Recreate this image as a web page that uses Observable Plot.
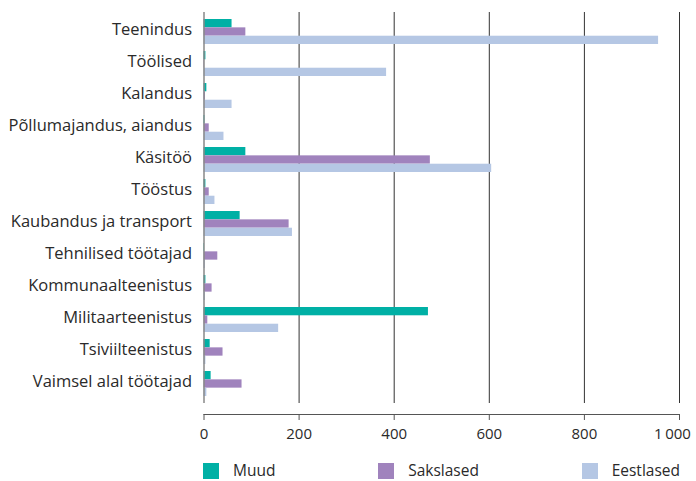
<!DOCTYPE html>
<html>
<head>
<meta charset="utf-8">
<script src="https://cdn.jsdelivr.net/npm/d3@7"></script>
<script src="https://cdn.jsdelivr.net/npm/@observablehq/plot@0.6"></script>
<style>
  body { margin: 0; background: #fff; font-family: "Open Sans", sans-serif; }
  #wrap { position: relative; width: 696px; height: 481px; }
  #legend { position: absolute; top: 462px; left: 203px; width: 477px; display: flex; justify-content: space-between; align-items: center; font-size: 15.5px; line-height: 17px; color: #2a2a2a; }
  #legend .item { display: flex; align-items: center; }
  #legend .sw { width: 16px; height: 16px; margin-right: 14px; }
</style>
</head>
<body>
<div id="wrap"><div id="chart"></div><div id="legend"></div></div>
<script>
const categories = ["Teenindus", "Töölised", "Kalandus", "Põllumajandus, aiandus", "Käsitöö", "Tööstus", "Kaubandus ja transport", "Tehnilised töötajad", "Kommunaalteenistus", "Militaarteenistus", "Tsiviilteenistus", "Vaimsel alal töötajad"];
const seriesNames = ["Muud", "Sakslased", "Eestlased"];
const muud = [59, 4, 6, 2, 88, 4, 76, 1, 4, 472, 13, 15];
const sakslased = [88, 1, 3, 11, 476, 11, 179, 29, 17, 8, 40, 80];
const eestlased = [956, 384, 59, 42, 605, 23, 186, 3, 3, 157, 4, 6];
const xTicks = [0, 200, 400, 600, 800, 1000];
const colors = ["#00b0a5", "#a083bd", "#b5c7e4"];

const values = [muud, sakslased, eestlased];
const rows = [];
seriesNames.forEach((s, si) => categories.forEach((c, ci) => rows.push({category: c, series: s, value: values[si][ci]})));

const width = 696, height = 450, marginTop = 12, marginBottom = 36, insetB = 11;
const pIn = 0.23, pOut = 0.12;
const rangeH = height - marginBottom - insetB - marginTop;
const step = rangeH / (categories.length - pIn + 2 * pOut);
const third = step * (1 - pIn) / 3;

const fmt = d => d3.format(",d")(d).replace(/,/g, "\u2009");
const lastTick = xTicks[xTicks.length - 1];

const chart = Plot.plot({
  width, height, marginTop, marginBottom, marginLeft: 203.5, marginRight: 17,
  insetBottom: insetB,
  style: {fontFamily: "Open Sans, sans-serif", fontSize: "15px", color: "#2a2a2a", background: "#fff"},
  x: {domain: [0, 1000], label: null},
  y: {domain: categories, paddingInner: pIn, paddingOuter: pOut, label: null},
  marks: [
    Plot.ruleX(xTicks.slice(1), {stroke: "#333", strokeWidth: 1, insetBottom: insetB}),
    Plot.barX(rows.filter(d => d.series === "Muud"), {x: "value", y: "category", fill: colors[0], insetBottom: 2 * third}),
    Plot.barX(rows.filter(d => d.series === "Sakslased"), {x: "value", y: "category", fill: colors[1], insetTop: third, insetBottom: third}),
    Plot.barX(rows.filter(d => d.series === "Eestlased"), {x: "value", y: "category", fill: colors[2], insetTop: 2 * third}),
    Plot.ruleX([0], {stroke: "#888", strokeWidth: 1.5, insetBottom: insetB}),
    Plot.frame({anchor: "bottom", stroke: "#555"}),
    Plot.axisX({ticks: xTicks, tickSize: 6, tickPadding: 8, tickFormat: d => d === lastTick ? "" : fmt(d), stroke: "#555", fontSize: 15, label: null}),
    Plot.axisX({ticks: [lastTick], tickSize: 0, tickPadding: 14, tickFormat: fmt, fontSize: 15, dx: -7, label: null}),
    Plot.axisY({tickSize: 0, tickPadding: 12, fontSize: 16.5, dy: -2, label: null})
  ]
});
document.getElementById("chart").appendChild(chart);

const legend = document.getElementById("legend");
seriesNames.forEach((s, i) => {
  const item = document.createElement("div");
  item.className = "item";
  item.innerHTML = `<span class="sw" style="background:${colors[i]}"></span><span>${s}</span>`;
  legend.appendChild(item);
});
</script>
</body>
</html>
